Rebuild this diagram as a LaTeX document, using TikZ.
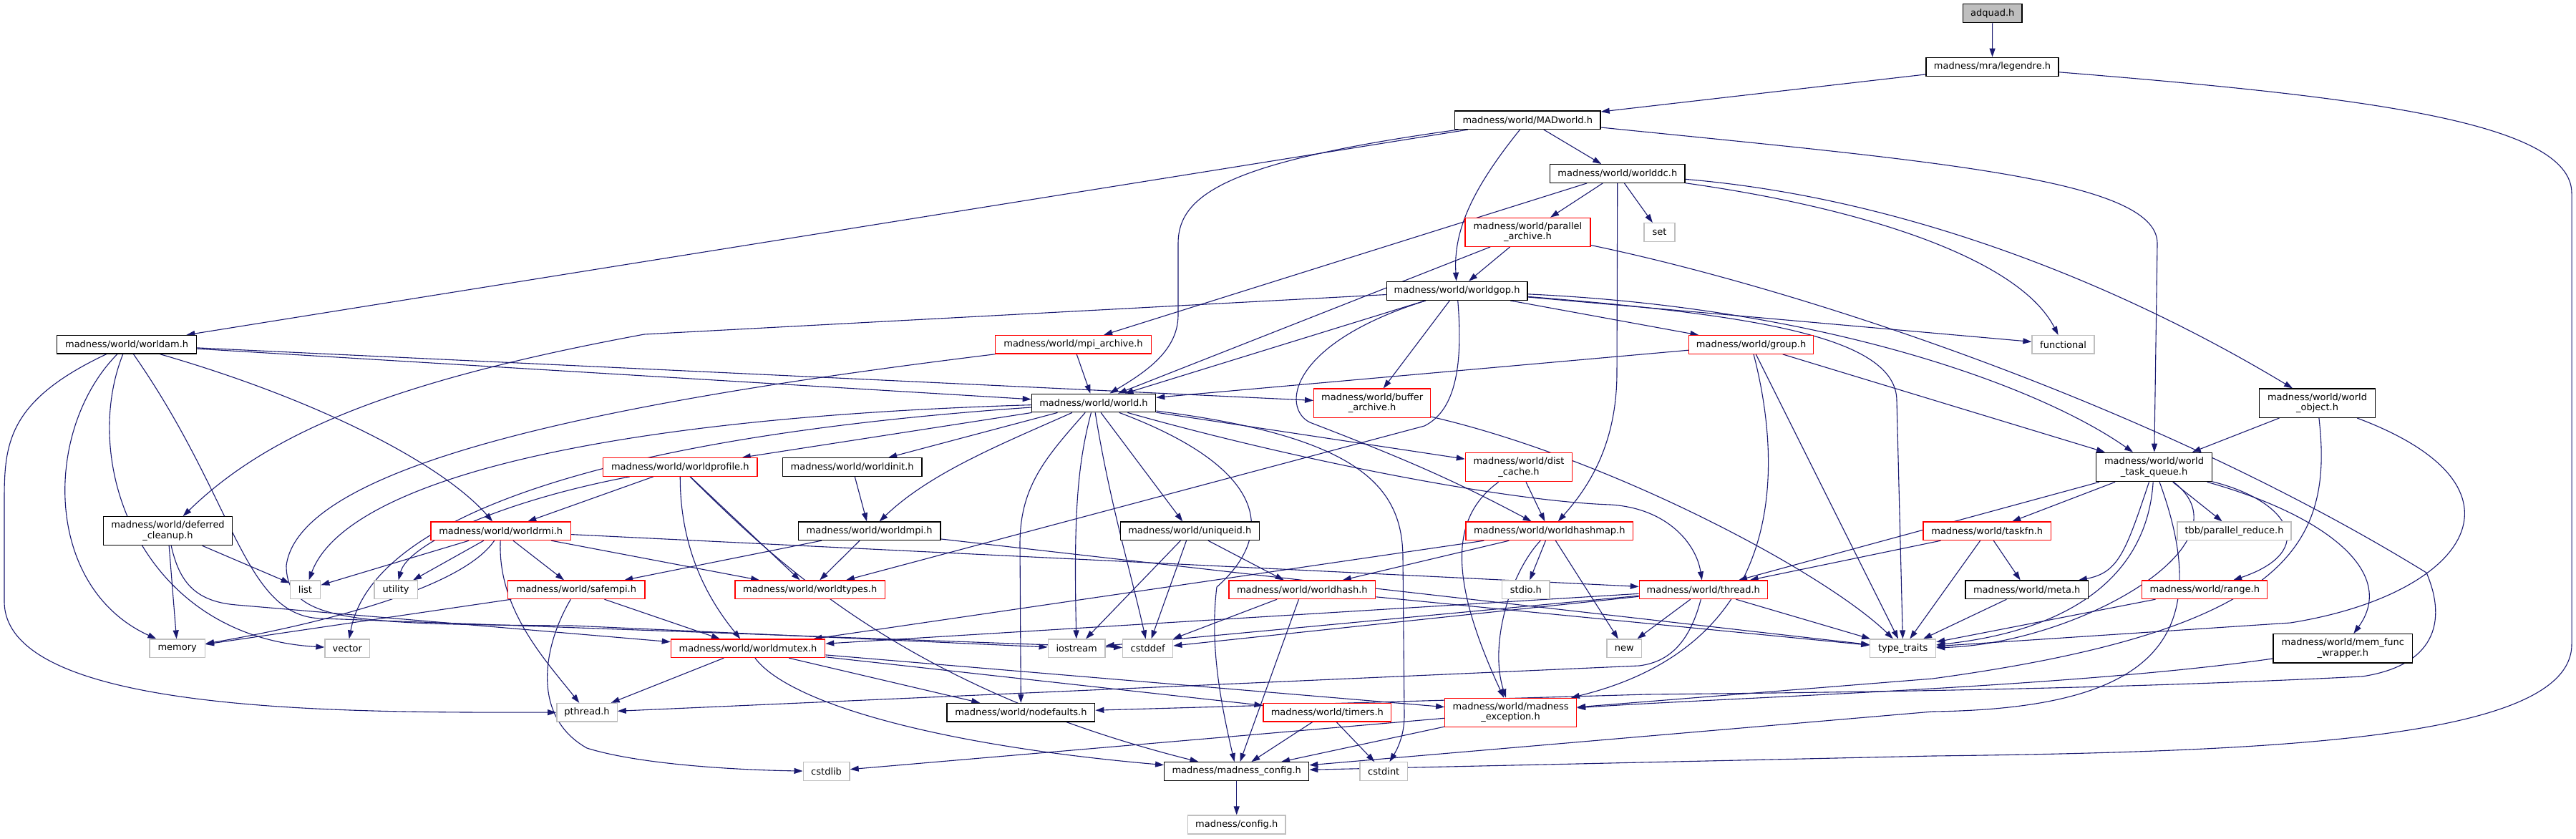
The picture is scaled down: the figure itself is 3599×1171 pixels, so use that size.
\documentclass[tikz,border=0pt]{standalone}
\usepackage{fontspec}
\setmainfont{DejaVu Sans}
\usetikzlibrary{arrows.meta}
\definecolor{navy}{HTML}{191970}
\definecolor{lgray}{HTML}{BFBFBF}
\pgfdeclarelayer{bg}
\pgfsetlayers{bg,main}
\tikzset{
  nb/.style={draw=black, line width=1.3pt, fill=white, inner sep=0pt, align=center, font=\fontsize{13}{14.5}\selectfont},
  nr/.style={nb, draw=red},
  ng/.style={nb, draw=lgray},
  e/.style={draw=navy, line width=1.1pt, -{Triangle[length=12pt,width=8pt]}}
}
\begin{document}
\begin{tikzpicture}[x=1pt,y=-1pt]
\useasboundingbox (0,0) rectangle (3599,1171);
\node[nb,fill=lgray,minimum width=82.5pt,minimum height=26pt] (adq) at (2783.7,18.7) {adquad.h};
\node[nb,minimum width=185pt,minimum height=26pt] (leg) at (2783.5,93.3) {madness/mra/legendre.h};
\node[nb,minimum width=203.5pt,minimum height=25.5pt] (mad) at (2134.3,167.7) {madness/world/MADworld.h};
\node[nb,minimum width=188.4pt,minimum height=25.6pt] (wdc) at (2259.8,242.5) {madness/world/worlddc.h};
\node[nr,minimum width=175pt,minimum height=40pt] (par) at (2134.4,324.3) {madness/world/parallel\\\_archive.h};
\node[ng,minimum width=43pt,minimum height=25.6pt] (set) at (2318.5,324.5) {set};
\node[nb,minimum width=196.8pt,minimum height=26pt] (gop) at (2035.6,406.3) {madness/world/worldgop.h};
\node[nb,minimum width=194.6pt,minimum height=25.5pt] (wam) at (177.1,481.3) {madness/world/worldam.h};
\node[nr,minimum width=217.5pt,minimum height=25.5pt] (mpi) at (1499.5,481.3) {madness/world/mpi\_archive.h};
\node[nr,minimum width=174pt,minimum height=25.5pt] (grp) at (2446.6,481.5) {madness/world/group.h};
\node[ng,minimum width=87pt,minimum height=25.5pt] (fun) at (2882.5,481.3) {functional};
\node[nb,minimum width=161.8pt,minimum height=40.3pt] (wob) at (3237.5,563.2) {madness/world/world\\\_object.h};
\node[nr,minimum width=163pt,minimum height=40.3pt] (buf) at (1917.1,563.2) {madness/world/buffer\\\_archive.h};
\node[nb,minimum width=173.3pt,minimum height=25.5pt] (wld) at (1528,563) {madness/world/world.h};
\node[nr,minimum width=215.3pt,minimum height=25.5pt] (prof) at (950.3,652.5) {madness/world/worldprofile.h};
\node[nb,minimum width=194.6pt,minimum height=25.5pt] (init) at (1190.7,652.5) {madness/world/worldinit.h};
\node[nr,minimum width=149.2pt,minimum height=40.4pt] (dist) at (2122,652.5) {madness/world/dist\\\_cache.h};
\node[nb,minimum width=161.4pt,minimum height=40.4pt] (wtq) at (3009.5,652.5) {madness/world/world\\\_task\_queue.h};
\node[nb,minimum width=179.7pt,minimum height=40pt] (dfc) at (234.5,741.7) {madness/world/deferred\\\_cleanup.h};
\node[nr,minimum width=195.3pt,minimum height=25.5pt] (rmi) at (699.7,741.8) {madness/world/worldrmi.h};
\node[nb,minimum width=198.7pt,minimum height=25.5pt] (wmpi) at (1214.6,741.8) {madness/world/worldmpi.h};
\node[nb,minimum width=194pt,minimum height=25.5pt] (uid) at (1662.3,741.8) {madness/world/uniqueid.h};
\node[nr,minimum width=233.6pt,minimum height=25.5pt] (hmap) at (2164.8,741.8) {madness/world/worldhashmap.h};
\node[nr,minimum width=178.3pt,minimum height=25.5pt] (tfn) at (2776.2,741.8) {madness/world/taskfn.h};
\node[ng,minimum width=159pt,minimum height=25.5pt] (pred) at (3121.5,741.8) {tbb/parallel\_reduce.h};
\node[ng,minimum width=42.5pt,minimum height=25.5pt] (lst) at (426.5,823.8) {list};
\node[ng,minimum width=60.2pt,minimum height=25.5pt] (utl) at (553.1,823.8) {utility};
\node[nr,minimum width=191.5pt,minimum height=25.5pt] (sfm) at (805.3,823.8) {madness/world/safempi.h};
\node[nr,minimum width=209.5pt,minimum height=25.5pt] (wty) at (1131.7,823.8) {madness/world/worldtypes.h};
\node[nr,minimum width=204.9pt,minimum height=25.5pt] (whs) at (1819.3,823.8) {madness/world/worldhash.h};
\node[ng,minimum width=66.5pt,minimum height=25.5pt] (sio) at (2131.8,823.8) {stdio.h};
\node[nr,minimum width=179pt,minimum height=25.5pt] (thr) at (2379.8,823.8) {madness/world/thread.h};
\node[nb,minimum width=171.6pt,minimum height=25.5pt] (meta) at (2831.7,823.8) {madness/world/meta.h};
\node[nr,minimum width=175pt,minimum height=25.5pt] (rng) at (3080.3,823.8) {madness/world/range.h};
\node[ng,minimum width=77.4pt,minimum height=25.5pt] (mem) at (247.7,905.8) {memory};
\node[ng,minimum width=62.6pt,minimum height=25.5pt] (vec) at (485.3,905.8) {vector};
\node[nr,minimum width=215.3pt,minimum height=25.5pt] (mtx) at (1045,905.8) {madness/world/worldmutex.h};
\node[ng,minimum width=79.8pt,minimum height=25.5pt] (ios) at (1504.1,905.8) {iostream};
\node[ng,minimum width=70pt,minimum height=25.5pt] (cdf) at (1603.7,905.8) {cstddef};
\node[ng,minimum width=48.7pt,minimum height=25.5pt] (new) at (2269.3,905.8) {new};
\node[ng,minimum width=91.8pt,minimum height=25.5pt] (ttr) at (2658.7,905.8) {type\_traits};
\node[nb,minimum width=194.6pt,minimum height=40.3pt] (mfw) at (3273.3,905.8) {madness/world/mem\_func\\\_wrapper.h};
\node[ng,minimum width=84.3pt,minimum height=25.5pt] (pth) at (820,995.2) {pthread.h};
\node[nb,minimum width=206.7pt,minimum height=25.5pt] (ndf) at (1426.4,995.2) {madness/world/nodefaults.h};
\node[nr,minimum width=178.5pt,minimum height=25.5pt] (tim) at (1854.3,995.2) {madness/world/timers.h};
\node[nr,minimum width=183.7pt,minimum height=40pt] (exc) at (2110.6,995.3) {madness/world/madness\\\_exception.h};
\node[ng,minimum width=64.9pt,minimum height=25.5pt] (csl) at (1154.6,1077.5) {cstdlib};
\node[nb,minimum width=202pt,minimum height=25.5pt] (cfg) at (1727.7,1077.5) {madness/madness\_config.h};
\node[ng,minimum width=66.6pt,minimum height=25.5pt] (cint) at (1933.2,1077.5) {cstdint};
\node[ng,minimum width=136.6pt,minimum height=26pt] (conf) at (1727.7,1152) {madness/config.h};

\begin{pgfonlayer}{bg}
\draw[e] (adq) -- (leg);
\draw[e] (leg) -- (mad);
\draw[e] (leg) .. controls (3300,135) and (3593,170) .. (3593,270) -- (3593,900) .. controls (3593,1030) and (3200,1050) .. (2700,1056) -- (cfg);
\draw[e] (mad) -- (wam);
\draw[e] (mad) .. controls (1720,225) and (1646,270) .. (1646,340) -- (1646,440) .. controls (1646,490) and (1600,520) .. (wld);
\draw[e] (mad) .. controls (2060,260) and (2030,320) .. (gop);
\draw[e] (mad) -- (wdc);
\draw[e] (mad) .. controls (2700,225) and (3014,250) .. (3014,340) -- (wtq);
\draw[e] (wdc) -- (mpi);
\draw[e] (wdc) -- (par);
\draw[e] (wdc) -- (set);
\draw[e] (wdc) -- (2259,520) .. controls (2259,620) and (2220,680) .. (hmap);
\draw[e] (wdc) .. controls (2600,290) and (2820,360) .. (fun);
\draw[e] (wdc) .. controls (2650,275) and (2950,390) .. (wob);
\draw[e] (par) -- (gop);
\draw[e] (par) -- (wld);
\draw[e] (par) .. controls (2500,400) and (3000,560) .. (3390,800) .. controls (3420,870) and (3400,930) .. (3300,945) .. controls (3000,960) and (2700,966) .. (2300,970) -- (ndf);
\draw[e] (gop) -- (wld);
\draw[e] (gop) -- (buf);
\draw[e] (gop) -- (grp);
\draw[e] (gop) -- (fun);
\draw[e] (gop) .. controls (2450,440) and (2650,470) .. (2650,560) -- (ttr);
\draw[e] (gop) .. controls (2550,430) and (2850,540) .. (wtq);
\draw[e] (gop) -- (900,467) .. controls (560,530) and (380,600) .. (dfc);
\draw[e] (gop) .. controls (1800,480) and (1790,570) .. (1830,590) .. controls (1960,640) and (2030,670) .. (hmap);
\draw[e] (gop) .. controls (2045,520) and (2030,575) .. (1990,595) -- (wty);
\draw[e] (wam) -- (wld);
\draw[e] (wam) -- (buf);
\draw[e] (wam) .. controls (450,560) and (620,650) .. (rmi);
\draw[e] (wam) .. controls (60,600) and (60,820) .. (mem);
\draw[e] (wam) .. controls (10,560) and (6,620) .. (6,700) -- (6,840) .. controls (6,1000) and (500,995) .. (pth);
\draw[e] (wam) .. controls (110,650) and (200,890) .. (vec);
\draw[e] (wam) .. controls (330,700) and (340,862) .. (450,864) -- (cdf);
\draw[e] (mpi) -- (wld);
\draw[e] (mpi) .. controls (900,555) and (420,640) .. (400,790) .. controls (400,870) and (500,872) .. (800,874) -- (ios);
\draw[e] (grp) -- (wld);
\draw[e] (grp) -- (wtq);
\draw[e] (grp) -- (ttr);
\draw[e] (grp) .. controls (2490,650) and (2500,900) .. (exc);
\draw[e] (buf) .. controls (2250,640) and (2550,800) .. (ttr);
\draw[e] (wld) -- (prof);
\draw[e] (wld) -- (init);
\draw[e] (wld) -- (uid);
\draw[e] (wld) .. controls (1400,620) and (1300,660) .. (wmpi);
\draw[e] (wld) .. controls (1460,640) and (1425,680) .. (1425,760) -- (ndf);
\draw[e] (wld) .. controls (1505,650) and (1500,720) .. (ios);
\draw[e] (wld) .. controls (1550,700) and (1580,800) .. (cdf);
\draw[e] (wld) .. controls (1760,650) and (1790,740) .. (1700,820) .. controls (1690,900) and (1705,980) .. (cfg);
\draw[e] (wld) .. controls (800,585) and (480,680) .. (lst);
\draw[e] (wld) .. controls (850,610) and (520,720) .. (vec);
\draw[e] (wld) -- (dist);
\draw[e] (wld) .. controls (1900,610) and (1960,680) .. (1960,780) -- (1962,1000) .. controls (1962,1030) and (1950,1050) .. (cint);
\draw[e] (wld) .. controls (1800,640) and (2100,700) .. (2250,705) .. controls (2330,710) and (2370,760) .. (thr);
\draw[e] (prof) .. controls (700,700) and (570,760) .. (utl);
\draw[e] (prof) -- (rmi);
\draw[e] (prof) .. controls (950,780) and (1000,850) .. (mtx);
\draw[e] (prof) -- (wty);
\draw[e] (prof) .. controls (1080,780) and (1260,960) .. (cfg);
\draw[e] (init) -- (wmpi);
\draw[e] (wmpi) -- (sfm);
\draw[e] (wmpi) -- (wty);
\draw[e] (wmpi) -- (ttr);
\draw[e] (uid) -- (ios);
\draw[e] (uid) -- (cdf);
\draw[e] (uid) -- (whs);
\draw[e] (dist) -- (hmap);
\draw[e] (dist) .. controls (2030,720) and (2020,800) .. (exc);
\draw[e] (hmap) -- (whs);
\draw[e] (hmap) -- (sio);
\draw[e] (hmap) -- (new);
\draw[e] (hmap) .. controls (2110,800) and (2080,900) .. (exc);
\draw[e] (hmap) -- (mtx);
\draw[e] (tfn) -- (thr);
\draw[e] (tfn) -- (meta);
\draw[e] (tfn) -- (ttr);
\draw[e] (wtq) -- (tfn);
\draw[e] (wtq) -- (pred);
\draw[e] (wtq) .. controls (2970,770) and (2960,800) .. (meta);
\draw[e] (wtq) .. controls (3200,700) and (3240,770) .. (rng);
\draw[e] (wtq) .. controls (3250,720) and (3350,800) .. (mfw);
\draw[e] (wtq) .. controls (3000,800) and (2900,880) .. (ttr);
\draw[e] (wtq) .. controls (3150,760) and (2900,900) .. (ttr);
\draw[e] (wtq) -- (thr);
\draw[e] (wtq) .. controls (3100,900) and (3000,990) .. (2700,994) -- (cfg);
\draw[e] (wob) -- (wtq);
\draw[e] (wob) .. controls (3550,680) and (3450,830) .. (3200,870) -- (ttr);
\draw[e] (wob) .. controls (3260,760) and (3200,880) .. (2700,948) -- (exc);
\draw[e] (meta) -- (ttr);
\draw[e] (rng) -- (ttr);
\draw[e] (mfw) .. controls (2900,960) and (2400,975) .. (exc);
\draw[e] (thr) -- (new);
\draw[e] (thr) -- (ttr);
\draw[e] (thr) .. controls (2360,900) and (2330,925) .. (2290,930) -- (pth);
\draw[e] (thr) -- (mtx);
\draw[e] (thr) -- (cdf);
\draw[e] (thr) -- (ios);
\draw[e] (rmi) -- (lst);
\draw[e] (rmi) -- (utl);
\draw[e] (rmi) .. controls (640,830) and (400,880) .. (mem);
\draw[e] (rmi) .. controls (695,850) and (760,920) .. (pth);
\draw[e] (rmi) -- (sfm);
\draw[e] (rmi) -- (wty);
\draw[e] (rmi) -- (thr);
\draw[e] (dfc) -- (lst);
\draw[e] (dfc) -- (mem);
\draw[e] (dfc) .. controls (250,810) and (270,840) .. (330,845) -- (mtx);
\draw[e] (sfm) -- (mem);
\draw[e] (sfm) -- (mtx);
\draw[e] (sfm) .. controls (760,900) and (740,1000) .. (820,1045) .. controls (900,1070) and (1050,1076) .. (csl);
\draw[e] (mtx) -- (pth);
\draw[e] (mtx) .. controls (1100,980) and (1300,1040) .. (cfg);
\draw[e] (mtx) -- (ndf);
\draw[e] (mtx) -- (exc);
\draw[e] (mtx) -- (tim);
\draw[e] (tim) -- (cfg);
\draw[e] (tim) -- (cint);
\draw[e] (exc) -- (cfg);
\draw[e] (exc) -- (csl);
\draw[e] (whs) -- (ttr);
\draw[e] (whs) -- (cdf);
\draw[e] (whs) -- (cfg);
\draw[e] (cfg) -- (conf);
\end{pgfonlayer}
\end{tikzpicture}
\end{document}
